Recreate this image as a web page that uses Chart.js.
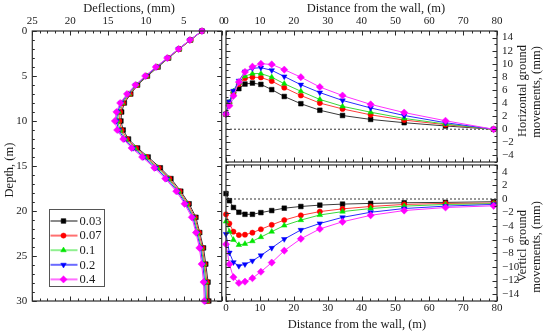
<!DOCTYPE html>
<html><head><meta charset="utf-8">
<script src="https://cdn.jsdelivr.net/npm/chart.js@4"></script>
<style>
html,body{margin:0;padding:0;background:#fff;}
#wrap{position:relative;width:550px;height:336px;overflow:hidden;background:#fff;}
canvas{position:absolute;left:0;top:0;}
</style></head><body>
<div id="wrap">
<canvas id="c1" width="550" height="336"></canvas>
<canvas id="c2" width="550" height="336"></canvas>
<canvas id="c3" width="550" height="336"></canvas>
</div>
<script>
// ---------- data ----------
const seriesNames = ['0.03', '0.07', '0.1', '0.2', '0.4'];

// Left panel: wall deflection (mm) vs depth (m)
const depths   = [0,1,2,3,4,5,6,7,8,9,10,11,12,13,14,15.2,16.4,17.8,19.2,20.7,22.4,24.1,25.9,27.9,30];
const defl003  = [2.6,4.1,5.6,7.0,8.4,9.8,11.1,12.0,12.85,13.2,13.3,13.0,12.3,11.1,9.7,8.1,6.7,5.4,4.3,3.4,2.9,2.4,2.1,1.8,1.7];
const defl007  = [2.6,4.1,5.6,7.05,8.5,9.9,11.2,12.1,13.0,13.4,13.5,13.2,12.5,11.3,9.9,8.3,6.9,5.55,4.45,3.55,3.0,2.55,2.25,1.95,1.85];
const defl01   = [2.6,4.15,5.65,7.1,8.55,9.95,11.25,12.25,13.15,13.6,13.75,13.4,12.7,11.5,10.1,8.5,7.05,5.7,4.6,3.7,3.15,2.7,2.35,2.1,2.0];
const defl02   = [2.6,4.2,5.7,7.15,8.6,10.0,11.35,12.4,13.3,13.75,13.9,13.6,12.85,11.7,10.3,8.7,7.25,5.85,4.75,3.8,3.3,2.8,2.5,2.25,2.15];
const defl04   = [2.6,4.2,5.7,7.2,8.7,10.1,11.4,12.5,13.4,13.9,14.1,13.8,13.0,11.9,10.5,8.9,7.45,6.0,4.9,3.95,3.4,2.95,2.65,2.4,2.3];

// Right panels: distance from the wall (m)
const distances = [0,1,2.2,3.8,5.6,7.8,10.3,13.5,17.2,22.1,27.7,34.4,42.7,52.6,64.8,79];
// Horizontal ground movements (mm)
const horiz003 = [2.3,4.1,5.5,6.2,6.9,7.05,6.85,6.05,5.0,3.9,2.9,2.1,1.5,1.0,0.5,0];
const horiz007 = [2.3,4.0,5.6,6.9,7.8,7.95,7.9,7.35,6.35,5.15,4.0,3.1,2.2,1.4,0.7,0];
const horiz01  = [2.3,4.1,5.8,7.1,8.1,8.5,8.5,7.95,6.95,5.8,4.55,3.5,2.6,1.65,0.8,0];
const horiz02  = [2.3,4.2,5.85,7.4,8.8,9.3,9.4,9.0,8.05,6.8,5.6,4.4,3.25,2.1,1.0,0];
const horiz04  = [2.3,3.6,5.1,7.2,8.75,9.55,10.0,9.9,9.1,7.95,6.45,5.15,3.8,2.55,1.3,0];
// Vertical ground movements (mm)
const vert003 = [0.8,-0.25,-1.25,-1.95,-2.25,-2.25,-2.0,-1.7,-1.35,-1.1,-0.9,-0.75,-0.65,-0.55,-0.5,-0.4];
const vert007 = [-2.25,-3.6,-4.8,-5.3,-5.25,-4.95,-4.45,-3.8,-3.1,-2.4,-1.85,-1.45,-1.1,-0.8,-0.65,-0.6];
const vert01  = [-3.3,-4.8,-6.0,-6.75,-6.6,-6.2,-5.6,-4.8,-3.9,-3.1,-2.35,-1.85,-1.4,-1.05,-0.8,-0.7];
const vert02  = [-5.15,-7.9,-9.3,-9.85,-9.6,-9.1,-8.3,-7.2,-5.9,-4.55,-3.6,-2.7,-1.95,-1.4,-1.05,-0.8];
const vert04  = [-6.65,-9.6,-11.5,-12.35,-12.15,-11.65,-10.7,-9.35,-7.6,-5.85,-4.4,-3.35,-2.4,-1.7,-1.25,-1.0];

// Tick labels
const deflTicks  = [0,5,10,15,20,25];
const depthTicks = [0,5,10,15,20,25,30];
const distTicks  = [0,10,20,30,40,50,60,70,80];
const horizTicks = [-4,-2,0,2,4,6,8,10,12,14];
const vertTicks  = [-14,-12,-10,-8,-6,-4,-2,0,2,4];

// ---------- styles ----------
const SERIF = '"Liberation Serif", "Times New Roman", serif';
const styles = [
  {color:'#000000', line:'#3a3a3a', legend:'#8a8a8a', shape:'rect',     r:3.3, rot:0},
  {color:'#ff0000', line:'#ff3b3b', legend:'#ff7070', shape:'circle',   r:2.6, rot:0},
  {color:'#00e600', line:'#3ad83a', legend:'#90f090', shape:'triangle', r:3.2, rot:0},
  {color:'#0000ff', line:'#2a2aff', legend:'#6a6aff', shape:'triangle', r:3.2, rot:180},
  {color:'#ff00ff', line:'#ff30ff', legend:'#ff70ff', shape:'rectRot',  r:3.6, rot:0}
];

function makeDatasets(xs, ysList, swap) {
  return ysList.map((vals, i) => {
    const st = styles[i];
    return {
      label: seriesNames[i],
      data: vals.map((v, k) => swap ? {x: v, y: xs[k]} : {x: xs[k], y: v}),
      showLine: true,
      borderColor: st.line,
      borderWidth: 1,
      backgroundColor: st.color,
      pointStyle: st.shape,
      pointRotation: st.rot,
      pointRadius: st.r,
      pointBackgroundColor: st.color,
      pointBorderColor: st.color,
      pointBorderWidth: 0.5,
      order: 4 - i,
      clip: false,
      tension: 0
    };
  });
}

function fixedTicks(arr) { return function(scale) { scale.ticks = arr.map(v => ({value: v})); }; }
function fmt(v) { return String(v).replace('-', '\u2212'); }
const tickFont = {family: SERIF, size: 11};

function axis(pos, min, max, ticks, size, pad, reverse) {
  const horiz = (pos === 'top' || pos === 'bottom');
  return {
    type: 'linear', position: pos, min: min, max: max, reverse: !!reverse,
    afterBuildTicks: fixedTicks(ticks),
    afterFit: horiz ? (s => { s.height = size; }) : (s => { s.width = size; }),
    grid: {display: false, drawTicks: false},
    border: {display: false},
    ticks: {font: tickFont, color: '#1a1a1a', padding: pad, maxRotation: 0, autoSkip: false, callback: v => fmt(v)}
  };
}

// Frame, inward ticks, zero line, titles, legend
const framePlugin = {
  id: 'frame',
  beforeDatasetsDraw(chart, args, o) {
    if (!o.zeroLine) return;
    const ca = chart.chartArea, ys = chart.scales.y, ctx = chart.ctx;
    const py = ys.getPixelForValue(0);
    ctx.save();
    ctx.strokeStyle = '#555'; ctx.lineWidth = 1.2; ctx.setLineDash([2, 2]);
    ctx.beginPath(); ctx.moveTo(ca.left, py); ctx.lineTo(ca.right, py); ctx.stroke();
    ctx.restore();
  },
  afterDraw(chart, args, o) {
    const ca = chart.chartArea, ctx = chart.ctx;
    const xs = chart.scales.x, ys = chart.scales.y;
    ctx.save();
    ctx.strokeStyle = '#2a2a2a'; ctx.lineWidth = 1.2;
    ctx.strokeRect(ca.left, ca.top, ca.right - ca.left, ca.bottom - ca.top);
    ctx.lineWidth = 1;
    ctx.beginPath();
    const isMajor = (v, m) => Math.abs(v / m - Math.round(v / m)) < 1e-6;
    for (let v = xs.min; v <= xs.max + 1e-9; v += o.xMinor) {
      const px = Math.round(xs.getPixelForValue(v)) + 0.5;
      const L = isMajor(v, o.xMajor) ? 4.5 : 2.5;
      ctx.moveTo(px, ca.top); ctx.lineTo(px, ca.top + L);
      ctx.moveTo(px, ca.bottom); ctx.lineTo(px, ca.bottom - L);
    }
    for (let v = ys.min; v <= ys.max + 1e-9; v += o.yMinor) {
      const py = Math.round(ys.getPixelForValue(v)) + 0.5;
      const L = isMajor(v, o.yMajor) ? 4.5 : 2.5;
      ctx.moveTo(ca.left, py); ctx.lineTo(ca.left + L, py);
      ctx.moveTo(ca.right, py); ctx.lineTo(ca.right - L, py);
    }
    ctx.stroke();
    // titles
    ctx.fillStyle = '#1a1a1a';
    ctx.textAlign = 'center'; ctx.textBaseline = 'middle';
    (o.titles || []).forEach(t => {
      ctx.save();
      ctx.font = (t.size || 12.5) + 'px ' + SERIF;
      ctx.translate(t.x, t.y);
      if (t.rot) ctx.rotate(t.rot * Math.PI / 180);
      ctx.fillText(t.text, 0, 0);
      ctx.restore();
    });
    // legend
    if (o.legend) {
      const L = o.legend;
      ctx.strokeStyle = '#555'; ctx.lineWidth = 1;
      ctx.strokeRect(L.x, L.y, L.w, L.h);
      chart.data.datasets.forEach((ds, i) => {
        const st = styles[i];
        const y = L.y + L.first + i * L.step;
        ctx.strokeStyle = st.legend; ctx.lineWidth = 2;
        ctx.beginPath(); ctx.moveTo(L.x + 1, y); ctx.lineTo(L.x + 28, y); ctx.stroke();
        ctx.fillStyle = st.color; ctx.strokeStyle = st.color; ctx.lineWidth = 0.5;
        Chart.helpers.drawPoint(ctx, {pointStyle: st.shape, radius: st.r, rotation: st.rot, borderWidth: 0.5}, L.x + 14, y);
        ctx.fillStyle = '#1a1a1a';
        ctx.font = '12.5px ' + SERIF;
        ctx.textAlign = 'left'; ctx.textBaseline = 'middle';
        ctx.fillText(ds.label, L.x + 30, y + 0.5);
      });
    }
    ctx.restore();
  }
};

function baseOptions(scales, padding, frame) {
  return {
    responsive: false, animation: false, events: [],
    layout: {padding: padding},
    scales: scales,
    plugins: {legend: {display: false}, tooltip: {enabled: false}, frame: frame}
  };
}

// Left: deflection profile
new Chart(document.getElementById('c1'), {
  type: 'scatter',
  data: {datasets: makeDatasets(depths, [defl003, defl007, defl01, defl02, defl04], true)},
  options: baseOptions({
    x: axis('top', 0, 25, deflTicks, 31, 3, true),
    y: axis('left', 0, 30, depthTicks, 32.3, 5, true)
  }, {left: 0, top: 0, right: 328.3, bottom: 35}, {
    xMinor: 1, xMajor: 5, yMinor: 1, yMajor: 5,
    titles: [
      {text: 'Deflections, (mm)', x: 129, y: 9},
      {text: 'Depth, (m)', x: 9.5, y: 170, rot: -90}
    ],
    legend: {x: 49.5, y: 209.5, w: 55, h: 77, first: 11.5, step: 14.6}
  }),
  plugins: [framePlugin]
});

// Top right: horizontal ground movements
new Chart(document.getElementById('c2'), {
  type: 'scatter',
  data: {datasets: makeDatasets(distances, [horiz003, horiz007, horiz01, horiz02, horiz04], false)},
  options: baseOptions({
    x: axis('top', 0, 80, distTicks, 31, 3),
    y: axis('right', -5, 15, horizTicks, 53, 5)
  }, {left: 226, top: 0, right: 0, bottom: 174}, {
    xMinor: 2.5, xMajor: 10, yMinor: 1, yMajor: 2, zeroLine: true,
    titles: [
      {text: 'Distance from the wall, (m)', x: 376, y: 9},
      {text: 'Horizontal ground', x: 523, y: 91, rot: -90},
      {text: 'movements, (mm)', x: 537, y: 92, rot: -90}
    ]
  }),
  plugins: [framePlugin]
});

// Bottom right: vertical ground movements
new Chart(document.getElementById('c3'), {
  type: 'scatter',
  data: {datasets: makeDatasets(distances, [vert003, vert007, vert01, vert02, vert04], false)},
  options: baseOptions({
    x: axis('bottom', 0, 80, distTicks, 35, 1),
    y: axis('right', -15, 5, vertTicks, 53, 5)
  }, {left: 226, top: 165, right: 0, bottom: 0}, {
    xMinor: 2.5, xMajor: 10, yMinor: 1, yMajor: 2, zeroLine: true,
    titles: [
      {text: 'Distance from the wall, (m)', x: 357, y: 325},
      {text: 'Verticl ground', x: 523, y: 246, rot: -90},
      {text: 'movements, (mm)', x: 537, y: 247, rot: -90}
    ]
  }),
  plugins: [framePlugin]
});
</script>
</body></html>
